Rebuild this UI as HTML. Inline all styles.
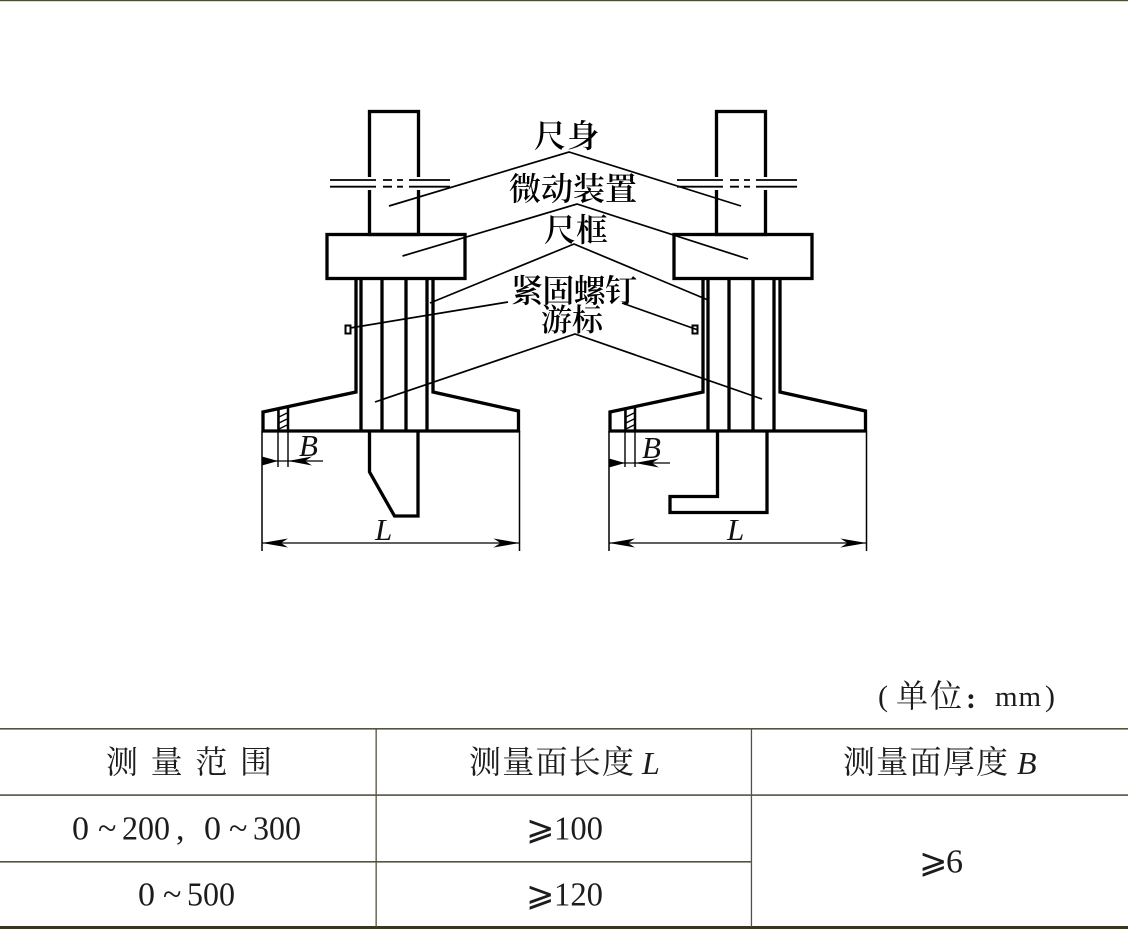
<!DOCTYPE html>
<html lang="zh"><head><meta charset="utf-8"><title>Diagram</title>
<style>html,body{margin:0;padding:0;background:#fff}svg{display:block}
.h{font-family:"Liberation Serif","Noto Serif CJK SC",serif;fill:#111}
.l{font-size:32px;font-weight:600;fill:#000}
.t{font-size:31px;fill:#1c1c1c}
.n{font-size:34px;fill:#1c1c1c}
.i{font-style:italic}
</style></head><body>
<svg width="1128" height="929" viewBox="0 0 1128 929" xmlns="http://www.w3.org/2000/svg">
<rect width="1128" height="929" fill="#fff"/>
<rect x="0" y="0" width="1128" height="1.2" fill="#4a4a35"/>

<defs>
<g id="base" fill="none" stroke="#000" stroke-width="3.3">
  <rect x="369.500" y="111.500" width="49" height="123"/>
  <rect x="327" y="234.500" width="138" height="44"/>
  <path d="M356 278V392L263 412V431H518.500V411L433 392V278"/>
  <path d="M361 278V431M382 278V431M406 278V431M427 278V431"/>
  <path d="M278.500 410V431M288 408V431" stroke-width="2.5"/>
  <rect x="367" y="177" width="54" height="13" fill="#fff" stroke="none"/>
  <g stroke-width="1.8">
    <path d="M330 180H376M409 180H450M330 186.700H376M409 186.700H450"/>
    <path d="M383 180H392M397 180H403M383 186.700H392M397 186.700H403"/>
  </g>
  <path d="M278 410V467M288 431V467" stroke-width="1.4"/>
  <path d="M279 417L287 413M279 423L287 419M279 429L287 425" stroke-width="1.3"/>
  <path d="M262 431V551M519.500 431V551" stroke-width="1.5"/>
  <path d="M262 543H519.500" stroke-width="1.3"/>
</g>
<path id="ar" d="M0 0L26 -4.500L19 0L26 4.500Z" fill="#000"/>
</defs>

<!-- left view -->
<use href="#base"/>
<path d="M262 461H323" stroke="#000" stroke-width="1.3"/>
<path d="M278 461L262 456.500L262 465.500Z" fill="#000"/>
<path d="M288 461L312 456.500L305 461L312 465.500Z" fill="#000"/>
<use href="#ar" x="262" y="543"/>
<use href="#ar" transform="translate(519.500 543) scale(-1 1)"/>
<path d="M369.500 431V472L394.500 516H418V431" fill="none" stroke="#000" stroke-width="3.300"/>
<rect x="345.500" y="325.500" width="5" height="8" fill="#fff" stroke="#000" stroke-width="2"/>

<!-- right view -->
<use href="#base" x="347"/>
<path d="M609 463H670" stroke="#000" stroke-width="1.3"/>
<path d="M625 463L609 458.500L609 467.500Z" fill="#000"/>
<path d="M635 463L659 458.500L652 463L659 467.500Z" fill="#000"/>
<use href="#ar" x="609" y="543"/>
<use href="#ar" transform="translate(866.500 543) scale(-1 1)"/>
<path d="M717.500 431V496.500H670V512.500H767V431" fill="none" stroke="#000" stroke-width="3.300"/>
<rect x="692.500" y="325.500" width="5" height="8" fill="#fff" stroke="#000" stroke-width="2"/>

<!-- leaders -->
<g fill="none" stroke="#000" stroke-width="1.7">
  <path d="M389 206L569 152L741 206"/>
  <path d="M402.500 256L577 204L748 259"/>
  <path d="M430 303L574 244L708 300"/>
  <path d="M350 328L508 302"/>
  <path d="M622 303L698 330"/>
  <path d="M375 402L575 334L762 399"/>
</g>

<!-- labels -->
<g class="h l">
  <text x="534" y="147" textLength="65">尺身</text>
  <text x="509" y="200" textLength="128">微动装置</text>
  <text x="544" y="241" textLength="64">尺框</text>
  <text x="511" y="302" textLength="126">紧固螺钉</text>
  <text x="541" y="331" style="font-size:31px" textLength="62">游标</text>
</g>
<g class="h i" style="font-size:31px;fill:#111">
  <text x="299" y="456">B</text>
  <text x="642" y="458">B</text>
  <text x="375" y="540">L</text>
  <text x="727" y="540">L</text>
</g>

<!-- table -->
<g fill="#55533f">
  <rect x="0" y="728" width="1128" height="1.600"/>
  <rect x="0" y="794.300" width="1128" height="1.600"/>
  <rect x="0" y="861" width="751" height="1.600"/>
  <rect x="0" y="926" width="1128" height="3" fill="#3a3520"/>
  <rect x="375.500" y="728" width="1.300" height="199"/>
  <rect x="750.800" y="728" width="1.300" height="199"/>
</g>
<g class="h t">
  <text x="878" y="706" style="font-size:30px">(</text>
  <text x="896" y="707" style="font-size:32px">单</text>
  <text x="930" y="707" style="font-size:32px">位</text>
  <text x="966" y="708" style="font-size:30px;font-weight:bold">:</text>
  <text x="995" y="706" style="font-size:29px" textLength="46">mm</text>
  <text x="1045" y="706" style="font-size:30px">)</text>
  <text x="106" y="773" style="font-size:32px" textLength="166">测 量 范 围</text>
  <text x="469" y="773" style="font-size:32px" textLength="165">测量面长度</text>
  <text x="642" y="774" class="i" style="font-size:32px">L</text>
  <text x="843" y="773" style="font-size:32px" textLength="165">测量面厚度</text>
  <text x="1017" y="774" class="i" style="font-size:32px">B</text>
</g>
<g class="h n">
  <text x="72" y="839.500">0</text>
  <text x="98" y="839.500">~</text>
  <text x="122" y="839.500" textLength="48" lengthAdjust="spacingAndGlyphs">200</text>
  <text x="176" y="839.500">,</text>
  <text x="204" y="839.500">0</text>
  <text x="229" y="839.500">~</text>
  <text x="253" y="839.500" textLength="48" lengthAdjust="spacingAndGlyphs">300</text>
  <text x="138" y="905.500">0</text>
  <text x="163" y="905.500">~</text>
  <text x="187" y="905.500" textLength="48" lengthAdjust="spacingAndGlyphs">500</text>
  <text x="526" y="839.500">⩾</text>
  <text x="554" y="839.500" textLength="49" lengthAdjust="spacingAndGlyphs">100</text>
  <text x="526" y="905.500">⩾</text>
  <text x="554" y="905.500" textLength="49" lengthAdjust="spacingAndGlyphs">120</text>
  <text x="919" y="872.500">⩾</text>
  <text x="946" y="872.500">6</text>
</g>
</svg>
</body></html>
